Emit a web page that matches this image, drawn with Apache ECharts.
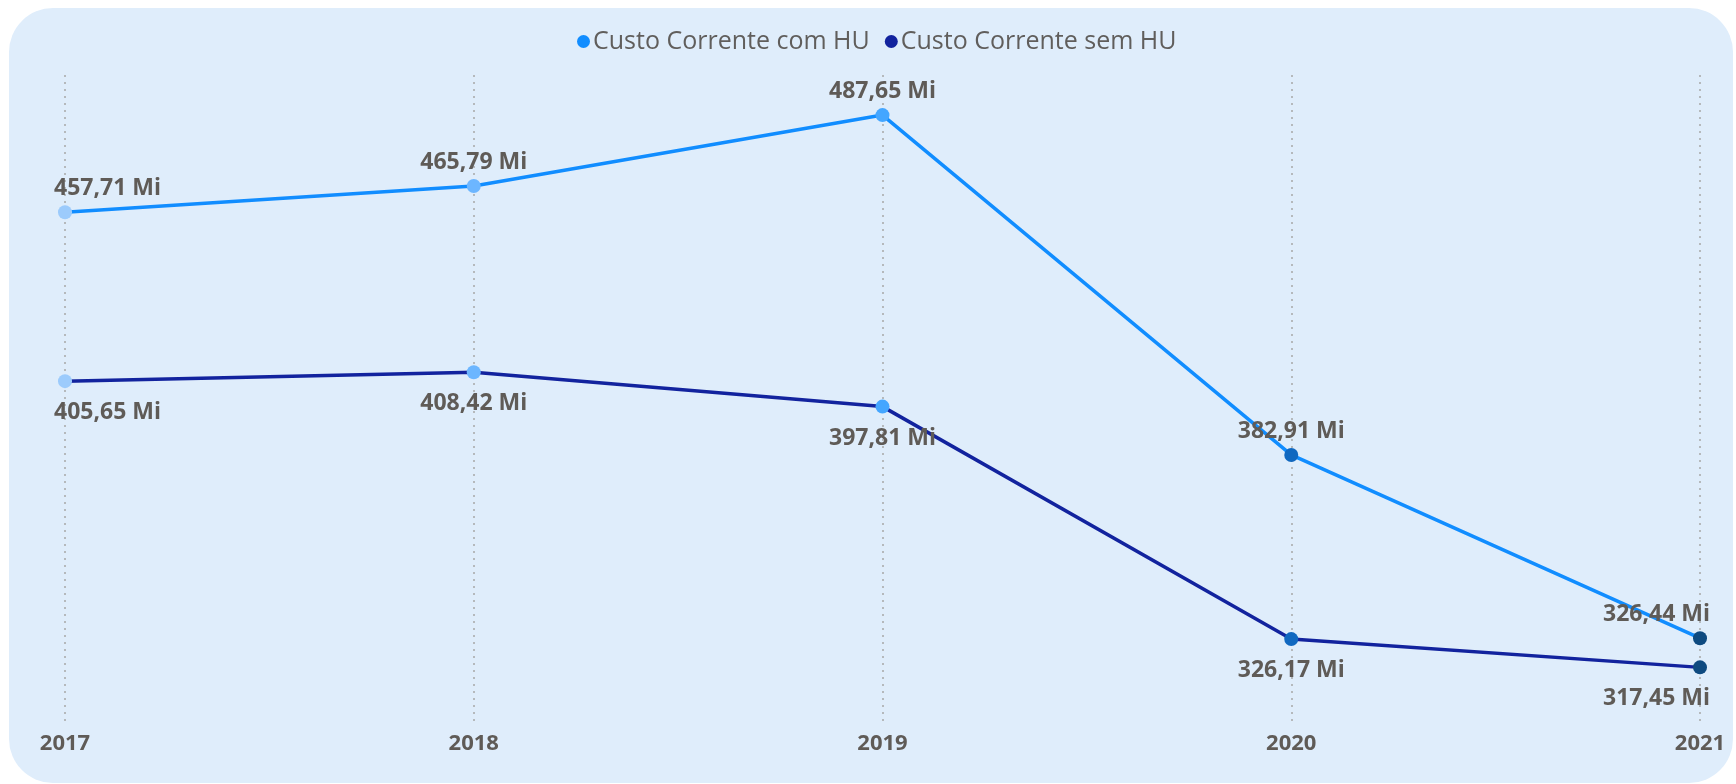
<!DOCTYPE html>
<html>
<head>
<meta charset="utf-8">
<script src="https://cdn.jsdelivr.net/npm/echarts@6/dist/echarts.min.js"></script>
<style>
  html, body { margin: 0; padding: 0; background: #ffffff; }
  #card { position: absolute; left: 9px; top: 8px; width: 1724px; height: 775px; background: #DFEDFB; border-radius: 44px; }
  #chart { position: absolute; left: 0; top: 0; width: 1736px; height: 784px; }
</style>
</head>
<body>
<div id="card"></div>
<div id="chart"></div>
<script>
const years = ['2017', '2018', '2019', '2020', '2021'];
const seriesNames = ['Custo Corrente com HU', 'Custo Corrente sem HU'];
const comHU = [457.71, 465.79, 487.65, 382.91, 326.44];
const semHU = [405.65, 408.42, 397.81, 326.17, 317.45];
const markerColors = ['#9CCBFC', '#6CB6FF', '#44A6FF', '#1068C0', '#0E4A80'];

const labelColor = '#5F5B57';
const fontFamily = '"Open Sans", "Noto Sans", sans-serif';

function fmt(v) {
  return v.toFixed(2).replace('.', ',') + ' Mi';
}

function buildData(values) {
  const last = values.length - 1;
  return values.map((v, i) => {
    const item = { value: v, itemStyle: { color: markerColors[i] } };
    if (i === 0) item.label = { align: 'left', offset: [-11, 0] };
    if (i === last) item.label = { align: 'right', offset: [10, 0] };
    return item;
  });
}

const chart = echarts.init(document.getElementById('chart'), null, { renderer: 'canvas' });
chart.setOption({
  backgroundColor: 'transparent',
  animation: false,
  textStyle: { fontFamily: fontFamily },
  legend: {
    top: 24,
    left: 572,
    icon: 'circle',
    itemWidth: 13,
    itemHeight: 13,
    itemGap: 15,
    textStyle: { color: '#605E5C', fontSize: 25, fontFamily: fontFamily, padding: [0, 0, 0, -2] },
    data: seriesNames
  },
  grid: { left: 65, right: 36, top: 75, bottom: 60, containLabel: false },
  xAxis: {
    type: 'category',
    data: years,
    boundaryGap: false,
    axisLine: { show: false },
    axisTick: { show: false },
    axisLabel: { color: labelColor, fontWeight: 'bold', fontSize: 22, margin: 9, fontFamily: fontFamily },
    splitLine: { show: true, lineStyle: { color: '#A8A8A8', width: 1.5, type: [2, 5] } }
  },
  yAxis: {
    type: 'value',
    min: 300,
    max: 500,
    show: false,
    splitLine: { show: false }
  },
  series: [
    {
      name: seriesNames[0],
      type: 'line',
      data: buildData(comHU),
      symbol: 'circle',
      symbolSize: 14,
      z: 3,
      lineStyle: { color: '#118DFF', width: 3.5 },
      itemStyle: { color: '#118DFF' },
      label: {
        show: true, position: 'top', distance: 5,
        color: labelColor, fontWeight: 'bold', fontSize: 23, fontFamily: fontFamily,
        formatter: p => fmt(p.value)
      }
    },
    {
      name: seriesNames[1],
      type: 'line',
      data: buildData(semHU),
      symbol: 'circle',
      symbolSize: 14,
      z: 2,
      lineStyle: { color: '#12239E', width: 3.5 },
      itemStyle: { color: '#12239E' },
      label: {
        show: true, position: 'bottom', distance: 13,
        color: labelColor, fontWeight: 'bold', fontSize: 23, fontFamily: fontFamily,
        formatter: p => fmt(p.value)
      }
    }
  ]
});
</script>
</body>
</html>
